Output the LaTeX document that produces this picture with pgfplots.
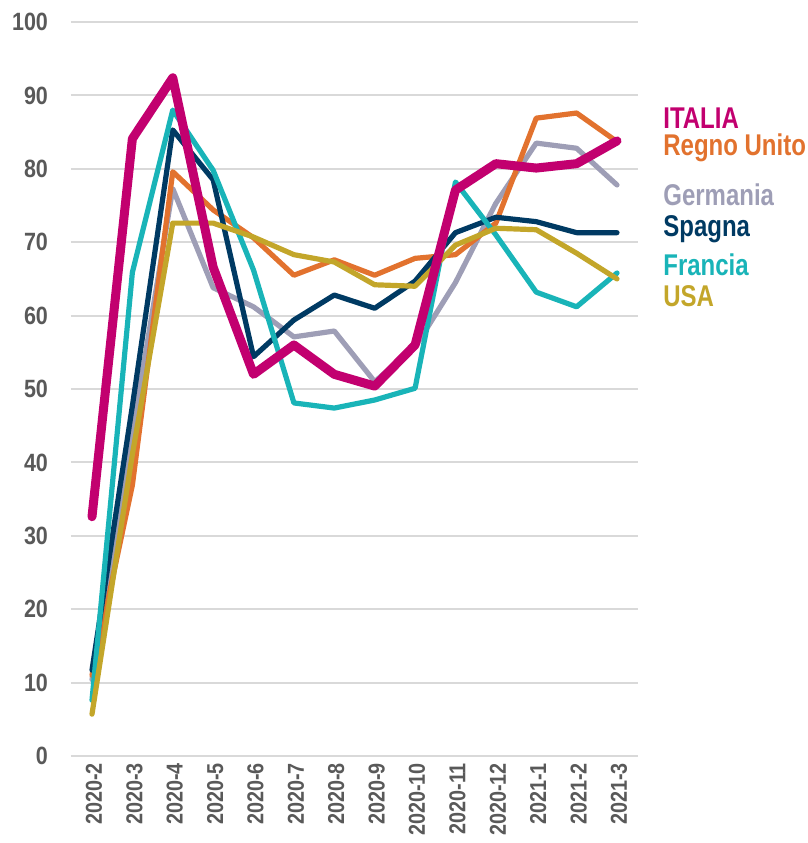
\documentclass[border=0pt]{standalone}
\usepackage{pgfplots}
\pgfplotsset{compat=1.18}
\usepackage{fontspec}
\setmainfont{Liberation Sans}[FakeStretch=0.86]
\newfontfamily\legfont{Liberation Sans}[FakeStretch=0.8]
\definecolor{ita}{HTML}{C2006F}
\definecolor{uk}{HTML}{E2722E}
\definecolor{ger}{HTML}{9E9EB6}
\definecolor{spa}{HTML}{003A63}
\definecolor{fra}{HTML}{19B4B8}
\definecolor{usa}{HTML}{C3A62A}
\definecolor{tick}{HTML}{595959}

\pgfplotstableread{
x ita uk ger spa fra usa
0 32.6 11.0 10.4 11.7 7.6 5.7
1 84.1 36.9 44.0 47.7 65.9 41.1
2 92.4 79.6 77.3 85.3 88.0 72.6
3 66.6 74.4 63.8 78.5 79.8 72.6
4 52.0 70.6 61.2 54.4 66.2 70.7
5 56.0 65.5 57.1 59.4 48.1 68.3
6 52.0 67.6 57.9 62.8 47.4 67.3
7 50.4 65.5 51.0 61.0 48.5 64.2
8 56.0 67.8 55.7 64.7 50.1 64.0
9 77.1 68.3 64.5 71.3 78.2 69.6
10 80.7 72.6 75.3 73.4 71.0 71.9
11 80.1 86.9 83.5 72.8 63.2 71.7
12 80.7 87.6 82.8 71.3 61.2 68.5
13 83.8 83.7 77.8 71.3 65.8 65.0
}\data

\begin{document}
\begin{tikzpicture}
\begin{axis}[
  scale only axis, width=283.5pt, height=367pt,
  xmin=-0.52, xmax=13.52, ymin=0, ymax=100,
  axis line style={draw=none}, major tick length=0pt,
  ytick={0,10,...,100}, ymajorgrids,
  grid style={draw=black!15, line width=1pt},
  xtick={0,...,13},
  xticklabels={2020-2,2020-3,2020-4,2020-5,2020-6,2020-7,2020-8,2020-9,2020-10,2020-11,2020-12,2021-1,2021-2,2021-3},
  x tick label style={rotate=90, anchor=east, font=\bfseries\fontsize{11.5}{13}\selectfont, text=tick, yshift=-1pt},
  y tick label style={font=\bfseries\fontsize{12.5}{14}\selectfont, text=tick},
  yticklabel style={xshift=-8pt},
  /pgf/number format/assume math mode=true,
  clip=false,
  every axis plot/.append style={line join=round, line cap=round, no markers},
]
\addplot[ger, line width=2.6pt] table[x=x, y=ger] {\data};
\addplot[uk, line width=2.6pt] table[x=x, y=uk] {\data};
\addplot[spa, line width=2.6pt] table[x=x, y=spa] {\data};
\addplot[fra, line width=2.6pt] table[x=x, y=fra] {\data};
\addplot[usa, line width=2.6pt] table[x=x, y=usa] {\data};
\addplot[ita, line width=4.5pt] table[x=x, y=ita] {\data};
\begin{scope}[every node/.style={anchor=west, font=\legfont\bfseries\fontsize{15}{16}\selectfont, inner sep=0pt}]
\node[text=ita] at (rel axis cs:1.044,0.869) {ITALIA};
\node[text=uk] at (rel axis cs:1.044,0.828) {Regno Unito};
\node[text=ger] at (rel axis cs:1.044,0.764) {Germania};
\node[text=spa] at (rel axis cs:1.044,0.718) {Spagna};
\node[text=fra] at (rel axis cs:1.044,0.669) {Francia};
\node[text=usa] at (rel axis cs:1.044,0.627) {USA};
\end{scope}
\path ([xshift=-35.5pt,yshift=-43.5pt]rel axis cs:0,0) rectangle ([xshift=85pt,yshift=11pt]rel axis cs:1,1);
\end{axis}
\end{tikzpicture}
\end{document}
